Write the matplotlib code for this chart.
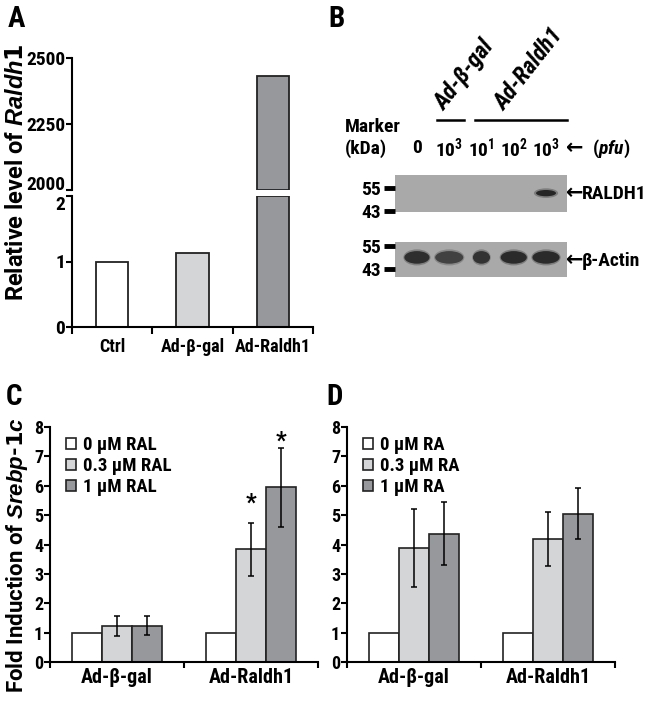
import numpy as np
import matplotlib
matplotlib.use("Agg")
import matplotlib.pyplot as plt
from matplotlib.patches import Ellipse

# fonts
NARROW = ['Roboto Condensed', 'DejaVu Sans']
WIDE = ['Arimo', 'Roboto', 'DejaVu Sans']
plt.rcParams['font.family'] = NARROW
plt.rcParams['font.weight'] = 'bold'
plt.rcParams['mathtext.fontset'] = 'custom'
plt.rcParams['mathtext.bf'] = 'Roboto Condensed:bold'
plt.rcParams['mathtext.it'] = 'Liberation Sans:bold:italic'
plt.rcParams['mathtext.sf'] = 'Roboto Condensed:bold:italic'

# ---- data ----
# A
groups_a = ['Ctrl', 'Ad-β-gal', 'Ad-Raldh1']
rel_level = [1.0, 1.13, 2430.0]
low_max = 2.0
high_min = 2000.0
high_max = 2500.0

# B (western blot)
lane_labels = ['0', r'$\mathbf{10^3}$', r'$\mathbf{10^1}$', r'$\mathbf{10^2}$', r'$\mathbf{10^3}$']
raldh1_band = [0, 0, 0, 0, 1.0]
actin_band = [0.95, 0.75, 0.9, 1.0, 1.0]
actin_width = [0.78, 0.87, 0.53, 0.81, 0.84]

# C
groups_cd = ['Ad-β-gal', 'Ad-Raldh1']
ral_labels = ['0 μM RAL', '0.3 μM RAL', '1 μM RAL']
ral_mean = [[1.0, 1.0], [1.22, 3.84], [1.24, 5.95]]
ral_err = [[0, 0], [0.35, 0.9], [0.33, 1.35]]
ral_star = [[None, None], [None, 5.2], [None, 7.3]]

# D
ra_labels = ['0 μM RA', '0.3 μM RA', '1 μM RA']
ra_mean = [[1.0, 1.0], [3.87, 4.19], [4.37, 5.05]]
ra_err = [[0, 0], [1.33, 0.93], [1.07, 0.87]]

colors = ['white', '#d4d5d7', '#97989b']
EDGE = '#222222'

W, H = 652, 701
def fx(px):
    return px / W
def fy(py):
    return 1 - py / H

fig = plt.figure(figsize=(6.52, 7.01), dpi=100)

def style_axis(ax, ysize):
    ax.spines['top'].set_visible(False)
    ax.spines['right'].set_visible(False)
    for s in ['left', 'bottom']:
        ax.spines[s].set_linewidth(1.5)
    ax.tick_params(axis='y', direction='out', length=4, width=1.5, labelsize=ysize, pad=1)

# ---- panel A ----
ax_lo = fig.add_axes([fx(72), fy(327), fx(313) - fx(72), fy(196) - fy(327)])
ax_hi = fig.add_axes([fx(72), fy(190), fx(313) - fx(72), fy(58) - fy(190)])
xa = np.arange(len(groups_a))
lv = np.array(rel_level)
ax_lo.bar(xa, np.minimum(lv, low_max), 0.4, color=colors, edgecolor=EDGE, linewidth=1.3)
hi_mask = lv > high_min
ax_hi.bar(xa[hi_mask], lv[hi_mask] - high_min, 0.4, bottom=high_min,
          color=np.array(colors)[hi_mask], edgecolor=EDGE, linewidth=1.3)
ax_lo.set_ylim(0, low_max)
ax_hi.set_ylim(high_min, high_max)
for ax in (ax_lo, ax_hi):
    ax.set_xlim(-0.5, 2.5)
    style_axis(ax, 14)
ax_lo.set_yticks([0, 1, 2])
ax_hi.set_yticks([2000, 2250, 2500])
# nudge the two labels at the break apart
ax_hi.get_yticklabels()[0].set_va('baseline')
ax_lo.get_yticklabels()[-1].set_va('top')
ax_hi.spines['bottom'].set_visible(False)
ax_hi.set_xticks([])
ax_lo.set_xticks([-0.5, 0.5, 1.5, 2.5])
ax_lo.set_xticklabels([])
ax_lo.tick_params(axis='x', which='major', direction='out', length=5, width=1.5)
ax_lo.set_xticks(xa, minor=True)
ax_lo.set_xticklabels(groups_a, minor=True)
ax_lo.tick_params(axis='x', which='minor', length=0, labelsize=13, pad=8)
fig.text(fx(17), fy(172), r'Relative level of $\it{Raldh1}$', rotation=90,
         ha='center', va='center', fontsize=17, family=WIDE, weight='bold')

# ---- panel B ----
ax_b1 = fig.add_axes([fx(395), fy(212), fx(567) - fx(395), fy(175) - fy(212)])
ax_b2 = fig.add_axes([fx(395), fy(277), fx(567) - fx(395), fy(242) - fy(277)])
lanes = np.arange(len(lane_labels))
for ax in (ax_b1, ax_b2):
    ax.set_facecolor('#a9a9a9')
    ax.set_xlim(-0.68, 4.65)
    ax.set_ylim(0, 1)
    ax.set_xticks([])
    for s in ax.spines.values():
        s.set_visible(False)
    ax.tick_params(axis='y', direction='out', length=8, width=3.5, labelsize=14, pad=2)
ax_b1.set_yticks([0.04, 0.65])
ax_b1.set_yticklabels(['43', '55'])
ax_b2.set_yticks([0.23, 0.89])
ax_b2.set_yticklabels(['43', '55'])

for i, v in enumerate(raldh1_band):
    if v > 0:
        ax_b1.add_patch(Ellipse((lanes[i], 0.51), 0.75, 0.26, color='#606060', alpha=0.6 * v, lw=0))
        ax_b1.add_patch(Ellipse((lanes[i], 0.51), 0.62, 0.17, color='#252525', alpha=v, lw=0))
for i, v in enumerate(actin_band):
    w = actin_width[i]
    ax_b2.add_patch(Ellipse((lanes[i], 0.56), w * 1.08, 0.46, color='#606060', alpha=0.6 * v, lw=0))
    ax_b2.add_patch(Ellipse((lanes[i], 0.56), w, 0.36, color='#2a2a2a', alpha=v, lw=0))

tr = ax_b1.get_xaxis_transform()
for i, lab in enumerate(lane_labels):
    ax_b1.text(lanes[i], 1.73, lab, transform=tr, ha='center', va='center', fontsize=14)
ax_b1.plot([0.62, 1.45], [2.49, 2.49], transform=tr, color='black', lw=1.8, clip_on=False)
ax_b1.plot([1.8, 4.65], [2.49, 2.49], transform=tr, color='black', lw=1.8, clip_on=False)
fig.text(fx(444), fy(112), 'Ad-β-gal', rotation=52, rotation_mode='anchor',
         ha='left', va='baseline', fontsize=17, style='italic')
fig.text(fx(504), fy(112), 'Ad-Raldh1', rotation=52, rotation_mode='anchor',
         ha='left', va='baseline', fontsize=17, style='italic')

fig.text(fx(345), fy(127), 'Marker', ha='left', va='center', fontsize=14)
fig.text(fx(345), fy(149), '(kDa)', ha='left', va='center', fontsize=14)
fig.text(fx(566), fy(148), '←', ha='left', va='center', fontsize=15, family=['DejaVu Sans'], weight='bold')
fig.text(fx(592), fy(149), r'($\mathsf{pfu}$)', ha='left', va='center', fontsize=14)
fig.text(fx(566), fy(193), '←', ha='left', va='center', fontsize=15, family=['DejaVu Sans'], weight='bold')
fig.text(fx(582), fy(194), 'RALDH1', ha='left', va='center', fontsize=14)
fig.text(fx(566), fy(260), '←', ha='left', va='center', fontsize=15, family=['DejaVu Sans'], weight='bold')
fig.text(fx(582), fy(261), 'β-Actin', ha='left', va='center', fontsize=14)

# ---- panels C and D ----
def grouped(ax, means, errs, labels, stars=None):
    xg = np.arange(len(groups_cd))
    bw = 0.222
    for k in range(len(means)):
        pos = xg + (k - 1) * bw
        ax.bar(pos, means[k], bw, color=colors[k], edgecolor=EDGE, linewidth=1.2,
               label=labels[k], zorder=2)
        e = np.array(errs[k], dtype=float)
        show = e > 0
        ax.errorbar(pos[show], np.array(means[k])[show], yerr=e[show], fmt='none',
                    ecolor='black', elinewidth=1.1, capsize=2, capthick=1.1, zorder=3)
        if stars is not None:
            for j in range(len(xg)):
                if stars[k][j] is not None:
                    ax.text(pos[j], stars[k][j], '*', ha='center', va='baseline', fontsize=17)
    ax.set_xlim(-0.5, 1.5)
    ax.set_ylim(0, 8)
    ax.set_yticks(range(0, 9))
    style_axis(ax, 13)
    ax.set_xticks([-0.5, 0.5, 1.5])
    ax.set_xticklabels([])
    ax.tick_params(axis='x', which='major', direction='out', length=4, width=1.5)
    ax.set_xticks(xg, minor=True)
    ax.set_xticklabels(groups_cd, minor=True)
    ax.tick_params(axis='x', which='minor', length=0, labelsize=14.5, pad=4)
    ax.legend(loc='upper left', bbox_to_anchor=(0.06, 0.96), frameon=False, fontsize=13.5,
              handlelength=0.55, handleheight=0.55, handletextpad=0.35, labelspacing=0.15,
              borderpad=0, borderaxespad=0)

ax_c = fig.add_axes([fx(50), fy(662), fx(318) - fx(50), fy(427) - fy(662)])
grouped(ax_c, ral_mean, ral_err, ral_labels, ral_star)
fig.text(fx(17), fy(555), r'Fold Induction of $\it{Srebp}$-$\it{1c}$', rotation=90,
         ha='center', va='center', fontsize=16, family=WIDE, weight='bold')

ax_d = fig.add_axes([fx(347), fy(662), fx(615) - fx(347), fy(427) - fy(662)])
grouped(ax_d, ra_mean, ra_err, ra_labels)

# panel letters
for lab, x, y in [('A', 8, 19), ('B', 328, 19), ('C', 6, 397), ('D', 326, 397)]:
    fig.text(fx(x), fy(y), lab, ha='left', va='center', fontsize=21)

fig.savefig('out.png', dpi=100)
